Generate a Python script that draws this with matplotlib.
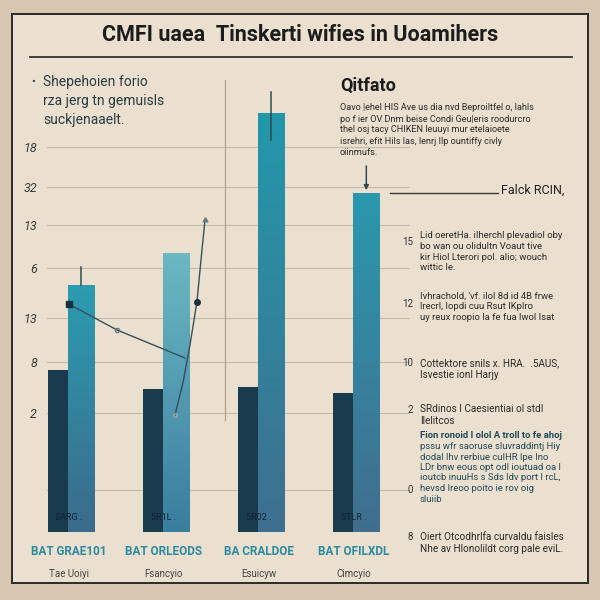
import numpy as np
import matplotlib
matplotlib.use("Agg")
import matplotlib.pyplot as plt
from matplotlib.colors import LinearSegmentedColormap
from matplotlib.patches import Rectangle
from matplotlib.lines import Line2D

plt.rcParams['font.family'] = ['Roboto', 'DejaVu Sans']

# ---------------- data ----------------
categories = ["GRAE101", "ORLEODS", "CRALDOE", "OFILXDL"]
cat_prefix = ["BAT", "BAT", "BA", "BAT"]
cat_sub = ["Tae Uoiyi", "Fsancyio", "Esuicyw", "Cimcyio"]
bar_inner = ["5ARG .", "5R1L .", "5R02 .", "5TLR ."]
dark_values = [35.8, 31.6, 32.1, 30.8]
teal_values = [54.6, 61.7, 92.7, 75.0]
teal_top = ["#2c9cb0", "#6cb7c2", "#2398ab", "#2a98ad"]
teal_bot = ["#3b6b8c", "#3a7ea0", "#3f6f90", "#416e8f"]
err_low = [54.6, None, 86.7, None]
err_high = [58.6, None, 97.3, None]
arrow_from = [None, None, None, 81.6]
ytick_pos = [85.2, 76.3, 67.9, 58.4, 47.3, 37.6, 26.3, 9.3]
ytick_lab = ["18", "32", "13", "6", "13", "8", "2", ""]
line1_x = [0.0, 0.505, 1.221]
line1_y = [50.4, 44.7, 38.5]
line2_x = [1.116, 1.20, 1.274, 1.347, 1.40, 1.432]
line2_y = [25.9, 33.0, 41.4, 50.9, 62.4, 69.0]

title = "CMFI uaea  Tinskerti wifies in Uoamihers"
left_note = ["Shepehoien forio", "rza jerg tn gemuisls", "suckjenaaelt."]
right_head = "Qitfato"
right_para = ["Oavo |ehel HIS Ave us dia nvd Beproiltfel o, lahls",
              "po f ier OV Dnm beise Condi Geu|eris roodurcro",
              "thel osj tacy CHIKEN leuuyi mur etelaioete",
              "isrehri, efit Hils las, lenrj Ilp ountiffy civly",
              "oiinmufs."]
callout = "Falck RCIN,"
side_nums = ["15", "12", "10", "2", "0", "8"]
blocks = [
    ["Lid oeretHa. iIherchl plevadiol oby",
     "bo wan ou olidultn Voaut tive",
     "kir Hiol Lterori pol. alio; wouch",
     "wittic Ie."],
    ["Ivhrachold, 'vf. ilol 8d id 4B frwe",
     "lrecrl, Iopdi cuu Rsut IKplro",
     "uy reux roopio la fe fua lwol Isat"],
    ["Cottektore snils x. HRA.  .5AUS,",
     "Isvestie ionI Harjy"],
    ["SRdinos I Caesientiai ol stdI",
     "Ilelitcos"],
    ["Fion ronoid I olol A troll to fe ahoj",
     "pssu wfr saoruse sluvraddintj Hiy",
     "dodal lhv rerbiue cuIHR lpe Ino",
     "LDr bnw eous opt odl ioutuad oa l",
     "ioutcb inuuHs s Sds ldv port I rcL,",
     "hevsd Ireoo poito ie rov oig",
     "sluiib"],
    ["Oiert Otcodhrlfa curvaldu faisles",
     "Nhe av Hlonolildt corg pale eviL."],
]

# ---------------- figure ----------------
W = H = 600
fig = plt.figure(figsize=(6, 6), dpi=100)
fig.patch.set_facecolor("#d7c7b0")

def fx(px):
    return px / W

def fy(py):
    return 1 - py / H

# framed panel
fig.patches.append(Rectangle((fx(12), fy(583)), fx(588) - fx(12), fy(14) - fy(583),
                             transform=fig.transFigure, facecolor="#ebe0cf",
                             edgecolor="#2b2b2b", lw=1.4, zorder=-10))

fig.text(0.5, fy(35), title, ha="center", va="center", fontsize=15.5,
         fontweight="bold", color="#1c1c1c")
fig.lines.append(Line2D([fx(30), fx(572)], [fy(57), fy(57)], transform=fig.transFigure,
                        color="#333333", lw=1.3))

fig.text(fx(31), fy(82), "•", fontsize=8, color="#2a3b44", va="center")
for i, s in enumerate(left_note):
    fig.text(fx(43), fy(82 + i * 19), s, fontsize=10, color="#2a3b44", va="center")

# ---------------- bar axes ----------------
ax = fig.add_axes([fx(40), fy(532), fx(410) - fx(40), fy(80) - fy(532)])
ax.set_facecolor("none")
xlim = (-0.305, 3.59)
ylim = (0, 100)

for t in ytick_pos:
    ax.axhline(t, color="#c6baa9", lw=0.8, zorder=1, xmin=0.02)
ax.set_yticks(ytick_pos)
ax.set_yticklabels(ytick_lab, fontsize=9, color="#3a3a3a", style="italic")
ax.tick_params(axis="y", length=0, pad=2)
ax.set_xticks([])
for sp in ax.spines.values():
    sp.set_visible(False)

# vertical reference line
ax.plot([1.64, 1.64], [24.8, 100], color="#aca398", lw=0.9, zorder=1, clip_on=False)

x = np.arange(len(categories))
dw, tw = 0.22, 0.28
ax.bar(x - 0.115, dark_values, width=dw, color="#1a3a4e", zorder=3)
grad = np.linspace(0, 1, 256).reshape(-1, 1)
for i in range(len(categories)):
    b = ax.bar(x[i] + 0.13, teal_values[i], width=tw, color="none", zorder=4)[0]
    cmap = LinearSegmentedColormap.from_list("g%d" % i, [teal_bot[i], teal_top[i]])
    x0 = b.get_x()
    im = ax.imshow(grad, extent=[x0, x0 + tw, 0, teal_values[i]], origin="lower",
                   cmap=cmap, aspect="auto", zorder=4, interpolation="bilinear")
    im.set_clip_path(b)
    if err_low[i] is not None:
        ax.plot([x[i] + 0.13] * 2, [err_low[i], err_high[i]], color="#2f4a55", lw=1.1,
                zorder=5, clip_on=False)
    if arrow_from[i] is not None:
        ax.annotate("", xy=(x[i] + 0.13, teal_values[i]), xytext=(x[i] + 0.13, arrow_from[i]),
                    arrowprops=dict(arrowstyle="-|>", color="#2f4a55", lw=1.1,
                                    mutation_scale=7), zorder=6)
    ax.text(x[i], 3.1, bar_inner[i], ha="center", va="center", fontsize=6.5,
            color="#0f2430", zorder=6)
    ax.text(x[i], -4.4, cat_prefix[i] + " " + categories[i], ha="center", va="center",
            fontsize=8.5, fontweight="bold", color="#2a8a9e", clip_on=False)
    ax.text(x[i], -9.3, cat_sub[i], ha="center", va="center", fontsize=7,
            color="#444444", clip_on=False)

ax.plot(line1_x, line1_y, color="#35505c", lw=1.0, zorder=7)
ax.plot(line1_x[0], line1_y[0], "s", color="#1a3040", ms=4, zorder=8)
ax.plot(line1_x[1], line1_y[1], "o", mfc="none", mec="#6b7a80", ms=3, zorder=8)
ax.plot(line2_x, line2_y, color="#35505c", lw=1.0, zorder=7)
ax.plot(line2_x[3], line2_y[3], "o", color="#1a3040", ms=4, zorder=8)
ax.plot(line2_x[0], line2_y[0], "o", mfc="none", mec="#9aa", ms=2.5, zorder=8)
ax.plot(line2_x[-1], line2_y[-1], marker=(3, 0, 0), color="#6b7a80", ms=4, zorder=8)

ax.set_xlim(*xlim)
ax.set_ylim(*ylim)

# ---------------- right-hand notes ----------------
fig.text(fx(340), fy(86), right_head, fontsize=13, fontweight="bold", color="#1c1c1c",
         va="center")
for i, s in enumerate(right_para):
    fig.text(fx(340), fy(108 + i * 11), s, fontsize=6.6, color="#2a2a2a", va="center")

fig.lines.append(Line2D([fx(390), fx(498)], [fy(193), fy(193)], transform=fig.transFigure,
                        color="#3a3a3a", lw=1.0))
fig.text(fx(501), fy(190), callout, fontsize=9, color="#222222", va="center")

num_y = [242, 304, 363, 410, 490, 537]
block_y = [236, 296, 363, 409, 436, 537]
block_col = ["#2a2a2a", "#2a2a2a", "#2a2a2a", "#2a2a2a", "#1f4a5a", "#2a2a2a"]
block_fs = [6.8, 6.8, 7.2, 7.2, 6.8, 7.2]
block_step = [10.5, 10.5, 11.5, 11.5, 10.5, 11.5]
for n, yy in zip(side_nums, num_y):
    fig.text(fx(413), fy(yy), n, fontsize=7, color="#333333", va="center", ha="right")
for k, lines in enumerate(blocks):
    for j, s in enumerate(lines):
        fig.text(fx(420), fy(block_y[k] + j * block_step[k]), s, fontsize=block_fs[k],
                 color=block_col[k], va="center",
                 fontweight="bold" if k == 4 and j == 0 else "normal")

fig.savefig("out.png", dpi=100, facecolor=fig.get_facecolor())
